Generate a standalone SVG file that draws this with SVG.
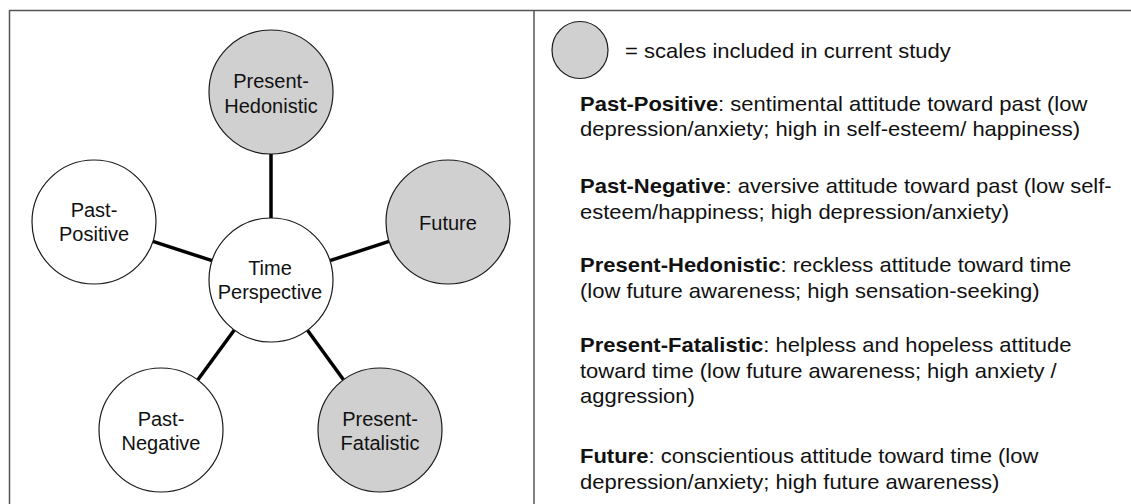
<svg xmlns="http://www.w3.org/2000/svg" width="1131" height="504" viewBox="0 0 1131 504">
<style>
.node{stroke:#1a1a1a;stroke-width:1.2}
.inc{fill:#d0d0d0}
.exc{fill:#ffffff}
.lbl{font-family:"Liberation Sans",Arial,sans-serif;font-size:20px;fill:#111;text-anchor:middle}
.desc{font-family:"Liberation Sans",Arial,sans-serif;font-size:20px;fill:#111}
.b{font-weight:bold}
.conn{stroke:#000;stroke-width:3.5;fill:none}
</style>
<rect width="1131" height="504" fill="#fff"/>
<g id="frame" fill="none" stroke="#555" stroke-width="1.5">
<rect x="9.5" y="10.5" width="1140" height="520"/>
<line x1="534" y1="10.5" x2="534" y2="504"/>
</g>
<g id="connectors">
<line class="conn" x1="271" y1="154" x2="271" y2="218"/>
<line class="conn" x1="212.1" y1="260.7" x2="152.9" y2="241.3"/>
<line class="conn" x1="329.9" y1="260.7" x2="389.1" y2="241.3"/>
<line class="conn" x1="234.3" y1="330" x2="197.7" y2="380"/>
<line class="conn" x1="307.5" y1="330.2" x2="343.5" y2="379.8"/>
</g>
<g id="present-hedonistic">
<circle class="node inc" cx="271" cy="92" r="62"/>
<text class="lbl" x="271" y="88">Present-</text>
<text class="lbl" x="271" y="113">Hedonistic</text>
</g>
<g id="past-positive">
<circle class="node exc" cx="94" cy="222" r="62"/>
<text class="lbl" x="94" y="217">Past-</text>
<text class="lbl" x="94" y="241">Positive</text>
</g>
<g id="future">
<circle class="node inc" cx="448" cy="222" r="62"/>
<text class="lbl" x="448" y="230">Future</text>
</g>
<g id="time-perspective">
<circle class="node exc" cx="271" cy="280" r="62"/>
<text class="lbl" x="270" y="275">Time</text>
<text class="lbl" x="270" y="299">Perspective</text>
</g>
<g id="past-negative">
<circle class="node exc" cx="161" cy="430" r="62"/>
<text class="lbl" x="161" y="426">Past-</text>
<text class="lbl" x="161" y="450">Negative</text>
</g>
<g id="present-fatalistic">
<circle class="node inc" cx="380" cy="430" r="62"/>
<text class="lbl" x="380" y="426">Present-</text>
<text class="lbl" x="380" y="450">Fatalistic</text>
</g>
<g id="legend">
<ellipse class="node inc" cx="580" cy="50" rx="28" ry="28.5"/>
<text class="desc" x="625" y="58" transform="matrix(1.1 0 0 1 -62.5 0)">= scales included in current study</text>
</g>
<g id="descriptions" transform="matrix(1.1 0 0 1 -58 0)">
<text class="desc" x="580" y="111"><tspan class="b">Past-Positive</tspan>: sentimental attitude toward past (low</text>
<text class="desc" x="580" y="136.5">depression/anxiety; high in self-esteem/ happiness)</text>
<text class="desc" x="580" y="193"><tspan class="b">Past-Negative</tspan>: aversive attitude toward past (low self-</text>
<text class="desc" x="580" y="219">esteem/happiness; high depression/anxiety)</text>
<text class="desc" x="580" y="272"><tspan class="b">Present-Hedonistic</tspan>: reckless attitude toward time</text>
<text class="desc" x="580" y="298">(low future awareness; high sensation-seeking)</text>
<text class="desc" x="580" y="352"><tspan class="b">Present-Fatalistic</tspan>: helpless and hopeless attitude</text>
<text class="desc" x="580" y="378">toward time (low future awareness; high anxiety /</text>
<text class="desc" x="580" y="403">aggression)</text>
<text class="desc" x="580" y="463"><tspan class="b">Future</tspan>: conscientious attitude toward time (low</text>
<text class="desc" x="580" y="489">depression/anxiety; high future awareness)</text>
</g>
</svg>
